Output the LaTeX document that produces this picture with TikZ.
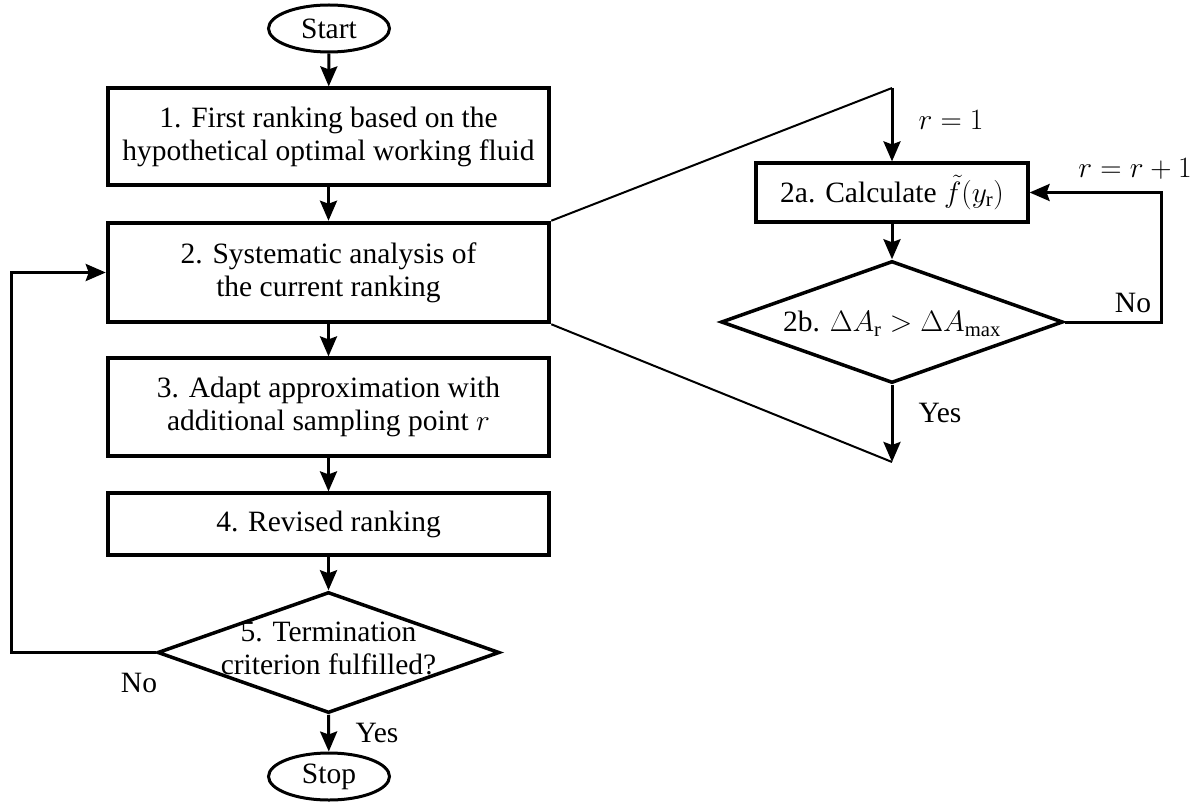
\RequirePackage{fix-cm}
\documentclass[tikz,border=0pt]{standalone}
\usepackage{amsmath}
\usepackage[no-math]{fontspec}
\setmainfont{Liberation Serif}
\usetikzlibrary{shapes.geometric,arrows.meta}
\begin{document}
\begin{tikzpicture}[x=1pt,y=-1pt,
  font=\fontsize{29.5}{33}\selectfont,
  proc/.style={draw, line width=3.2pt, minimum width=441pt, inner sep=0pt, align=center},
  term/.style={ellipse, draw, line width=3pt, minimum width=121pt, minimum height=47pt, inner sep=0pt},
  dia/.style={diamond, draw, line width=3.5pt, inner sep=0pt},
  arr/.style={-{Stealth[length=20pt,width=17pt,inset=3pt]}, line width=3pt},
  zoomline/.style={line width=2pt},
  lbl/.style={inner sep=0pt}]
\useasboundingbox (0,0) rectangle (1201,805);
% left column
\node[term] (start) at (329,28.5) {Start};
\node[proc, minimum height=97pt] (b1) at (328.5,136.5) {1. First ranking based on the\\hypothetical optimal working fluid};
\node[proc, line width=4.5pt, minimum height=99pt] (b2) at (328.5,272.5) {2. Systematic analysis of\\the current ranking};
\node[proc, minimum height=98pt] (b3) at (328.5,407) {3. Adapt approximation with\\additional sampling point $r$};
\node[proc, minimum height=62pt] (b4) at (328.5,524) {4. Revised ranking};
\node[dia, minimum width=342pt, minimum height=121pt] (d5) at (328.5,652.5) {};
\node[lbl, align=center] (d5t) at (328.5,648) {5. Termination\\criterion fulfilled?};
\node[term] (stop) at (329,776.5) {Stop};
\coordinate (lc) at (11,652.5);
\node[lbl] (no5) at (139,683) {No};
\node[lbl] (yes5) at (377,733) {Yes};
\draw[arr] (start) -- (b1);
\draw[arr] (b1) -- (b2);
\draw[arr] (b2) -- (b3);
\draw[arr] (b3) -- (b4);
\draw[arr] (b4) -- (d5.north);
\draw[arr] (d5.south) -- (stop);
\draw[arr] (d5.west) -- (lc) |- (b2.west);
% right detail
\coordinate (rtop) at (892,88);
\coordinate (rbot) at (892,462);
\coordinate (rc) at (1161,322);
\node[proc, minimum width=272pt, minimum height=59pt] (b2a) at (892,192.5) {2a. Calculate $\tilde{f}(y_{\text{r}})$};
\node[dia, minimum width=342pt, minimum height=122pt] (d2b) at (892,322) {};
\node[lbl] (d2bt) at (892,324) {2b. $\Delta A_{\text{r}} > \Delta A_{\text{max}}$};
\node[lbl] (r1) at (951,120) {$r=1$};
\node[lbl] (rr1) at (1135,169) {$r=r+1$};
\node[lbl] (no2) at (1133,303) {No};
\node[lbl] (yes2) at (940,413) {Yes};
\draw[zoomline] (b2.north east) -- (rtop);
\draw[zoomline] (b2.south east) -- (rbot);
\draw[arr] (rtop) -- (b2a.north);
\draw[arr] (b2a.south) -- (d2b.north);
\draw[arr] (d2b.south) -- (rbot);
\draw[arr] (d2b.east) -- (rc) |- (b2a.east);
\end{tikzpicture}
\end{document}
